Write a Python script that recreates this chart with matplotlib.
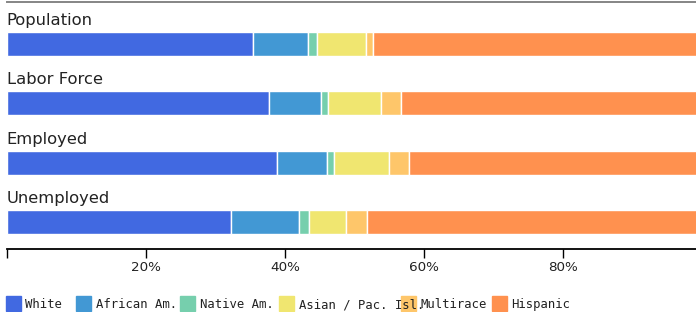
import numpy as np
import matplotlib
matplotlib.use("Agg")
import matplotlib.pyplot as plt
import matplotlib.patches as patches
from matplotlib.ticker import FuncFormatter

# data (share of each group, %)
rows = ["Population", "Labor Force", "Employed", "Unemployed"]
groups = ["White", "African Am.", "Native Am.", "Asian / Pac. Isl.", "Multirace", "Hispanic"]
colors = ["#4169e1", "#4298d4", "#76cfad", "#f0e670", "#fec66a", "#ff914f"]
white = [35.4, 37.7, 38.8, 32.2]
african = [7.9, 7.5, 7.2, 9.8]
native = [1.3, 1.0, 1.0, 1.5]
asian = [7.1, 7.6, 8.0, 5.3]
multi = [0.9, 2.9, 2.9, 3.0]
hispanic = [47.4, 43.3, 42.1, 48.2]
ticks = [0, 20, 40, 60, 80]

W, H = 696, 312
fig = plt.figure(figsize=(W / 100, H / 100), dpi=100, facecolor="white")

# axes in pixel terms: x 0..1 -> 6.5..702.5 px (clipped at right), y 0..248.7 px
x0 = 6.5
ax_bottom = 248.7
ax = fig.add_axes([x0 / W, 1 - ax_bottom / H, (W - x0) / W, ax_bottom / H])
ax.set_xlim(0, (W - x0) / W)
ax.set_ylim(ax_bottom, 0)

bar_top = [32, 91.3, 151, 210]
bar_h = 24
label_base = [25, 84.3, 143.6, 203.3]
centers = [t + bar_h / 2 for t in bar_top]

series = [white, african, native, asian, multi, hispanic]
left = np.zeros(len(rows))
for vals, c in zip(series, colors):
    v = np.array(vals) / 100
    ax.barh(centers, v, left=left, height=bar_h, color=c,
            edgecolor="white", linewidth=1.0)
    left += v

for name, yb in zip(rows, label_base):
    ax.text(0, yb, name, fontsize=11.8, va="baseline", ha="left",
            color="#222222", family="DejaVu Sans")

# top gray rule
ax.axhline(1.7, color="#858585", linewidth=1.4, clip_on=False)

for s in ["top", "left", "right"]:
    ax.spines[s].set_visible(False)
ax.spines["bottom"].set_linewidth(1.3)
ax.set_yticks([])
ax.set_xticks([t / 100 for t in ticks])
ax.xaxis.set_major_formatter(FuncFormatter(lambda v, p: "" if v == 0 else f"{v*100:.0f}%"))
ax.tick_params(axis="x", direction="out", length=6.5, width=1.0, pad=2.5,
               labelsize=9.7, colors="black", labelcolor="#222222")

# legend, laid out by hand like the original
sw_x = [6, 76, 180, 279.3, 401, 492]
sw_top, sw_size = 296, 15
for gx, g, c in zip(sw_x, groups, colors):
    fig.patches.append(patches.Rectangle((gx / W, 1 - (sw_top + sw_size) / H),
                                         sw_size / W, sw_size / H,
                                         transform=fig.transFigure, color=c, zorder=1))
    fig.text((gx + 19.5) / W, 1 - 308 / H, g, fontsize=8.85, family="DejaVu Sans Mono",
             va="baseline", ha="left", color="#222222", zorder=3)

fig.savefig("out.png", dpi=100, facecolor="white")
